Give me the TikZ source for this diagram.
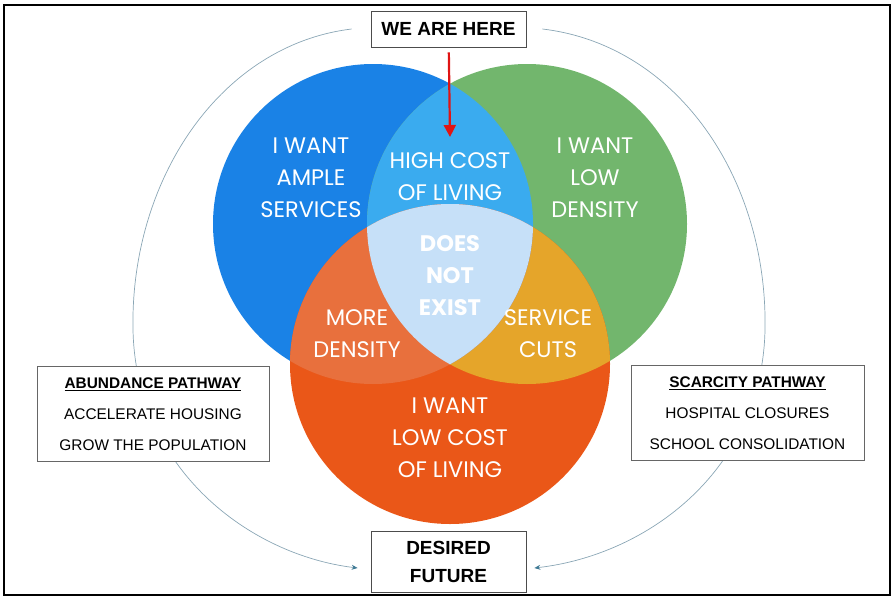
\documentclass[tikz,border=0pt]{standalone}
\usepackage{fontspec}
\setmainfont{Poppins}
\newfontfamily\boxfont{Liberation Sans}
\usetikzlibrary{positioning,arrows.meta}

\definecolor{cblue}{HTML}{1A82E6}
\definecolor{cgreen}{HTML}{72B66D}
\definecolor{corange}{HTML}{EA5718}
\definecolor{cbluegreen}{HTML}{3AABEF}
\definecolor{cblueorange}{HTML}{E8703D}
\definecolor{cgreenorange}{HTML}{E5A52A}
\definecolor{ctriple}{HTML}{C6E0F8}
\definecolor{sweepgray}{HTML}{8AA6B5}
\definecolor{tipblue}{HTML}{3F7A95}
\definecolor{herered}{HTML}{E01414}

\begin{document}
\begin{tikzpicture}
  [x=1pt, y=-1pt,
  venntext/.style={text=white, align=center,
    font=\fontsize{22.5}{32}\selectfont},
  tag/.style={draw=black!70, line width=0.8pt, fill=white, align=center,
    font=\boxfont\bfseries\fontsize{19}{28}\selectfont,
    minimum width=155pt},
  pathbox/.style={draw=black!60, line width=0.8pt, fill=white, align=center,
    font=\boxfont\fontsize{15.4}{31}\selectfont,
    minimum width=232pt, minimum height=95pt},
  sweep/.style={draw=sweepgray, line width=0.7pt,
    -{Stealth[length=6pt,width=5pt,color=tipblue]}},
  herearrow/.style={draw=herered, line width=2.2pt,
    -{Triangle[length=12pt,width=12pt]}},
  ]
  \useasboundingbox (0,0) rectangle (894,597);
  \draw[line width=2pt] (4,5) rectangle (890,595);

  % circles
  \coordinate (cb) at (373,224);
  \coordinate (cg) at (527,224);
  \coordinate (co) at (450,364);
  \fill[cblue]   (cb) circle (160pt);
  \fill[cgreen]  (cg) circle (160pt);
  \fill[corange] (co) circle (160pt);
  \begin{scope}
    \clip (cg) circle (160pt);
    \fill[cgreenorange] (co) circle (160pt);
  \end{scope}
  \begin{scope}
    \clip (cb) circle (160pt);
    \fill[cbluegreen]  (cg) circle (160pt);
    \fill[cblueorange] (co) circle (160pt);
    \clip (cg) circle (160pt);
    \fill[ctriple] (co) circle (160pt);
  \end{scope}

  % labels in the circles
  \node (services) at (311,178) [venntext] {I WANT\\AMPLE\\SERVICES};
  \node (lowdens)  at (595,178) [venntext] {I WANT\\LOW\\DENSITY};
  \node (highcost) at (450,177) [venntext] {HIGH COST\\OF LIVING};
  \node (noexist)  at (450,276) [venntext] {\bfseries DOES\\\bfseries NOT\\\bfseries EXIST};
  \node (moredens) at (357,334) [venntext] {MORE\\DENSITY};
  \node (cuts)     at (548,334) [venntext] {SERVICE\\CUTS};
  \node (lowcost)  at (450,438) [venntext] {I WANT\\LOW COST\\OF LIVING};

  % boxes
  \node (wah) at (448.5,29) [tag, minimum height=36pt] {WE ARE HERE};
  \node (df)  at (448.5,561.5) [tag, minimum height=61pt] {DESIRED\\FUTURE};
  \coordinate (here) at (450,137);
  \draw[herearrow, shorten <=5pt] (wah) -- (here);

  % pathways
  \draw[sweep] ([xshift=-19pt]wah.west) .. controls (220,45) and (130,180) .. (133,330)
    .. controls (136,470) and (250,555) .. ([xshift=-13pt,yshift=-6.5pt]df.west);
  \draw[sweep] ([xshift=16pt]wah.east) .. controls (678,45) and (768,180) .. (765,330)
    .. controls (762,470) and (648,555) .. ([xshift=8pt,yshift=-6.5pt]df.east);

  \node (abund) at (153,414) [pathbox]
    {\underline{\bfseries ABUNDANCE PATHWAY}\\ACCELERATE HOUSING\\GROW THE POPULATION};
  \node (scarce) at (747.5,413) [pathbox, minimum width=233pt]
    {\underline{\bfseries SCARCITY PATHWAY}\\HOSPITAL CLOSURES\\SCHOOL CONSOLIDATION};
\end{tikzpicture}
\end{document}
